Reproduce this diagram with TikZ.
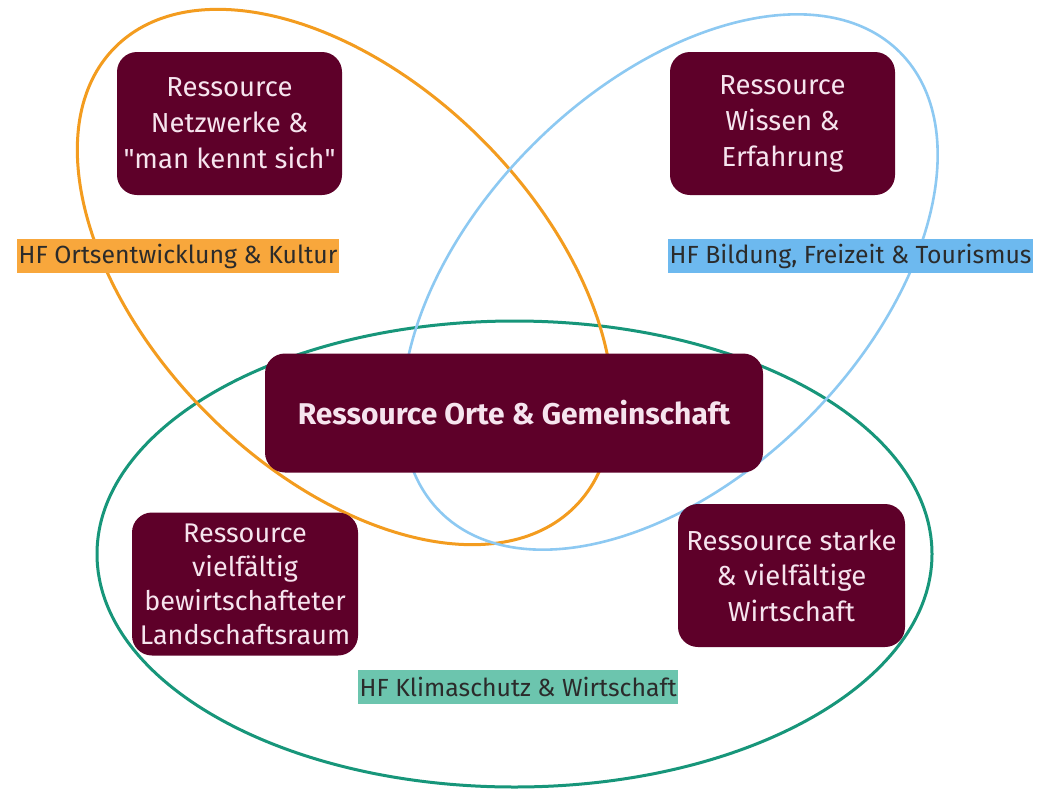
\documentclass[tikz,border=0pt]{standalone}
\usepackage{fontspec}
\setmainfont{Fira Sans}
\definecolor{boxfill}{HTML}{5E0029}
\definecolor{boxtext}{HTML}{F6E4EE}
\definecolor{orangeline}{HTML}{F39C1F}
\definecolor{blueline}{HTML}{8DC9F2}
\definecolor{greenline}{HTML}{17967A}
\definecolor{orangelab}{HTML}{F8A73C}
\definecolor{bluelab}{HTML}{6DB9EF}
\definecolor{greenlab}{HTML}{6CC5AE}
\definecolor{labtext}{HTML}{2B2B2B}
\tikzset{
  resbox/.style={rectangle, rounded corners=20pt, fill=boxfill, text=boxtext,
    align=center, inner sep=0pt, font=\fontsize{27.5}{36}\selectfont},
  hflabel/.style={rectangle, inner xsep=1.5pt, inner ysep=0pt, text=labtext, anchor=west,
    minimum height=34pt, font=\fontsize{24.8}{30}\selectfont},
  ring/.style={line width=3pt}
}
\begin{document}
\begin{tikzpicture}[x=1pt,y=-1pt]
\useasboundingbox (0,0) rectangle (1042,788);
\fill[white] (0,0) rectangle (1042,788);
% ellipses
\draw[ring, greenline] (514.5,554) ellipse [x radius=417.5pt, y radius=233pt];
\draw[ring, orangeline, rotate around={-45:(345,277)}] (345,277) ellipse [x radius=325pt, y radius=194pt];
\draw[ring, blueline, line width=2.6pt, rotate around={45:(670,282)}] (670,282) ellipse [x radius=325pt, y radius=194pt];
% boxes
\node[resbox, minimum width=225pt, minimum height=143pt] (netz) at (229.5,123.5) {Ressource\\Netzwerke \&\\\textquotedbl man kennt sich\textquotedbl};
\node[resbox, minimum width=225pt, minimum height=143pt] (wissen) at (782.5,123.5) {Ressource\\Wissen \&\\Erfahrung};
\node[resbox, minimum width=498pt, minimum height=119pt, font=\fontsize{30}{36}\selectfont\bfseries] (orte) at (514,413) {Ressource Orte \& Gemeinschaft};
\node[resbox, minimum width=226pt, minimum height=143pt, font=\fontsize{27}{34}\selectfont] (land) at (245,584) {Ressource\\vielfältig\\bewirtschafteter\\Landschaftsraum};
\node[resbox, minimum width=227pt, minimum height=143pt, font=\fontsize{27.5}{35.5}\selectfont] (wirt) at (791.5,575.5) {Ressource starke\\\& vielfältige\\Wirtschaft};
% labels
\node[hflabel, fill=orangelab] (hf1) at (17,256) {HF Ortsentwicklung \& Kultur};
\node[hflabel, fill=bluelab] (hf2) at (668,256) {HF Bildung, Freizeit \& Tourismus};
\node[hflabel, fill=greenlab] (hf3) at (358,687) {HF Klimaschutz \& Wirtschaft};
\end{tikzpicture}
\end{document}
